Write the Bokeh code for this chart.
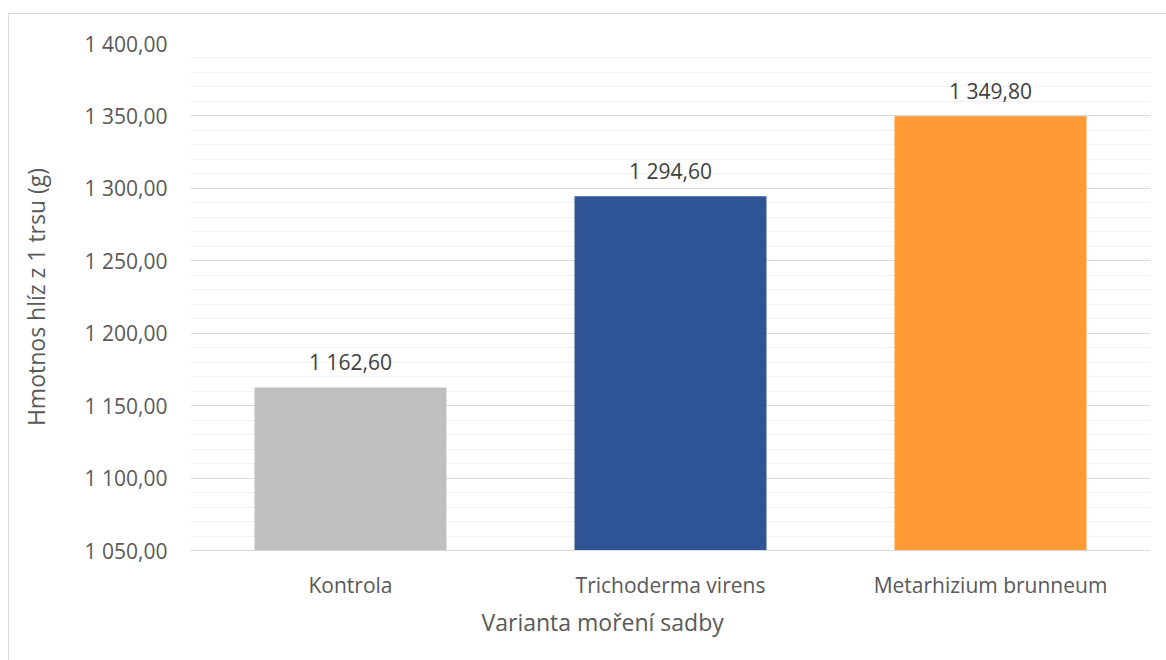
from bokeh.plotting import figure
from bokeh.models import Range1d, FactorRange, FixedTicker, ColumnDataSource, Title
from bokeh.core.properties import value
from bokeh.embed import file_html
from bokeh.resources import INLINE

categories = ["Kontrola", "Trichoderma virens", "Metarhizium brunneum"]
values = [1162.60, 1294.60, 1349.80]
labels = ["1 162,60", "1 294,60", "1 349,80"]
colors = ["#BFBFBF", "#2F5597", "#FF9A35"]
y_ticks = [1050, 1100, 1150, 1200, 1250, 1300, 1350, 1400]
y_tick_labels = ["1 050,00", "1 100,00", "1 150,00", "1 200,00", "1 250,00", "1 300,00", "1 350,00", "1 400,00"]
y_minor = list(range(1050, 1401, 10))

FONT = "Open Sans"
TXT = "#595959"

src = ColumnDataSource(dict(cat=categories, val=values, lab=labels, col=colors,
                            base=[1050] * len(values)))

p = figure(width=1158, height=647, x_range=FactorRange(*categories),
           y_range=Range1d(1050, 1400), output_backend="svg", toolbar_location=None,
           min_border_left=181, min_border_right=17, min_border_top=29, min_border_bottom=111)
p.styles = {"border-left": "1px solid #d9d9d9", "border-top": "1px solid #d9d9d9",
            "margin-top": "13px", "margin-left": "8px"}
p.outline_line_color = None
p.background_fill_color = "white"

p.vbar(x="cat", top="val", bottom="base", width=0.6, fill_color="col", line_color=None, source=src)
p.text(x="cat", y="val", text="lab", source=src, text_align="center", text_baseline="middle",
       y_offset=-25, text_font=value(FONT), text_font_size="21px", text_color="#404040")

p.yaxis.ticker = FixedTicker(ticks=y_ticks, minor_ticks=y_minor)
p.yaxis.major_label_overrides = {t: l for t, l in zip(y_ticks, y_tick_labels)}
p.yaxis.axis_line_color = None
p.yaxis.major_tick_line_color = None
p.yaxis.minor_tick_line_color = None
p.yaxis.major_label_standoff = 17
p.yaxis.major_label_text_font = FONT
p.yaxis.major_label_text_font_size = "21px"
p.yaxis.major_label_text_color = TXT
p.yaxis.axis_label = "Hmotnos hlíz z 1 trsu (g)"
p.yaxis.axis_label_text_font = FONT
p.yaxis.axis_label_text_font_size = "23px"
p.yaxis.axis_label_text_font_style = "normal"
p.yaxis.axis_label_text_color = TXT
p.yaxis.axis_label_standoff = 30

p.xaxis.axis_line_color = "#d9d9d9"
p.xaxis.major_tick_line_color = None
p.xaxis.minor_tick_line_color = None
p.xaxis.major_label_standoff = 14
p.xaxis.major_label_text_font = FONT
p.xaxis.major_label_text_font_size = "21px"
p.xaxis.major_label_text_color = TXT

p.xgrid.grid_line_color = None
p.ygrid.grid_line_color = "#d9d9d9"
p.ygrid.grid_line_width = 1
p.ygrid.minor_grid_line_color = "#f2f2f2"

t = Title(text="Varianta moření sadby", align="left", offset=291,
          text_font=FONT, text_font_size="23px", text_font_style="normal", text_color=TXT,
          standoff=5)
p.add_layout(t, "below")

open("out.html", "w").write(file_html(p, INLINE))
